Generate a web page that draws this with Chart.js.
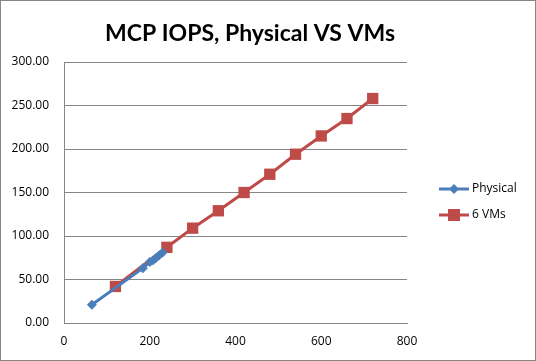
<!DOCTYPE html>
<html>
<head>
<meta charset="utf-8">
<script src="https://cdn.jsdelivr.net/npm/chart.js@4.4.1/dist/chart.umd.min.js"></script>
<style>
  html, body { margin: 0; padding: 0; background: #fff; }
  #wrap { width: 536px; height: 361px; }
</style>
</head>
<body>
<div id="wrap"><canvas id="iopsChart" width="536" height="361"></canvas></div>
<script>
// --- DATA ---
const chartTitle = 'MCP IOPS, Physical VS VMs';
const physicalX = [65, 184, 200, 208, 215, 222, 230];
const physicalY = [21, 63, 70, 72, 75, 78, 81];
const vmsX = [120, 240, 300, 360, 420, 480, 540, 600, 660, 720];
const vmsY = [42, 87, 109, 129, 150, 171, 194, 215, 235, 258];
const seriesNames = ['Physical', '6 VMs'];
const xTicks = [0, 200, 400, 600, 800];
const yTicks = [0, 50, 100, 150, 200, 250, 300];

const BLUE = '#4a7ebb';
const RED = '#be4b48';
const GRID = '#868686';
const FONT = 'Open Sans';

function toPoints(xs, ys) {
    return xs.map((x, i) => ({ x: x, y: ys[i] }));
}

// frame, white background and title (Excel centres it on the whole chart)
const framePlugin = {
    id: 'frame',
    beforeDraw(chart) {
        const c = chart.ctx;
        c.save();
        c.fillStyle = '#fff';
        c.fillRect(0, 0, chart.width, chart.height);
        c.strokeStyle = GRID;
        c.lineWidth = 1;
        c.strokeRect(0.5, 0.5, chart.width - 1, chart.height - 1);
        c.fillStyle = '#000';
        c.font = 'bold 23px Lato';
        c.textAlign = 'center';
        c.textBaseline = 'middle';
        c.fillText(chartTitle, 250, 34);
        c.restore();
    }
};

// legend: line through marker, on the right
const legendPlugin = {
    id: 'xlLegend',
    afterDraw(chart) {
        const c = chart.ctx;
        const x0 = 439, y0 = 189, gap = 26;
        c.save();
        chart.data.datasets.forEach((ds, i) => {
            const y = y0 + i * gap;
            c.strokeStyle = ds.borderColor;
            c.lineWidth = 3;
            c.beginPath();
            c.moveTo(x0, y);
            c.lineTo(x0 + 30, y);
            c.stroke();
            c.fillStyle = ds.pointBackgroundColor;
            c.beginPath();
            if (i === 0) {
                c.moveTo(x0 + 15, y - 5); c.lineTo(x0 + 20, y);
                c.lineTo(x0 + 15, y + 5); c.lineTo(x0 + 10, y);
                c.closePath(); c.fill();
            } else {
                c.fillRect(x0 + 9, y - 6, 12, 12);
            }
            c.fillStyle = '#000';
            c.font = '12px ' + FONT;
            c.textAlign = 'left';
            c.textBaseline = 'middle';
            c.fillText(ds.label, x0 + 33, y);
        });
        c.restore();
    }
};

new Chart(document.getElementById('iopsChart').getContext('2d'), {
    type: 'scatter',
    data: {
        datasets: [{
            label: seriesNames[0],
            data: toPoints(physicalX, physicalY),
            showLine: true,
            borderColor: BLUE, borderWidth: 3,
            pointStyle: 'rectRot', pointRadius: 5, pointHoverRadius: 5,
            pointBackgroundColor: BLUE, pointBorderColor: BLUE, pointBorderWidth: 0
        }, {
            label: seriesNames[1],
            data: toPoints(vmsX, vmsY),
            showLine: true,
            borderColor: RED, borderWidth: 3,
            pointStyle: 'rect', pointRadius: 8, pointHoverRadius: 8,
            pointBackgroundColor: RED, pointBorderColor: RED, pointBorderWidth: 0
        }]
    },
    options: {
        responsive: false,
        animation: false,
        layout: { padding: { left: 0, right: 129, top: 62, bottom: 0 } },
        plugins: {
            legend: { display: false },
            tooltip: { enabled: false },
            title: { display: false }
        },
        scales: {
            x: {
                type: 'linear', min: 0, max: 800,
                afterBuildTicks: axis => { axis.ticks = xTicks.map(v => ({ value: v })); },
                afterFit: axis => { axis.height = 38; },
                grid: { display: false, drawTicks: false },
                border: { display: true, color: GRID, width: 1 },
                ticks: { color: '#000', font: { family: FONT, size: 12 }, padding: 11, maxRotation: 0 }
            },
            y: {
                type: 'linear', min: 0, max: 300,
                afterBuildTicks: axis => { axis.ticks = yTicks.map(v => ({ value: v })); },
                afterFit: axis => { axis.width = 64; },
                grid: { color: GRID, drawTicks: false },
                border: { display: true, color: GRID, width: 1 },
                ticks: {
                    color: '#000', font: { family: FONT, size: 12 }, padding: 15,
                    callback: v => v.toFixed(2)
                }
            }
        }
    },
    plugins: [framePlugin, legendPlugin]
});
</script>
</body>
</html>
